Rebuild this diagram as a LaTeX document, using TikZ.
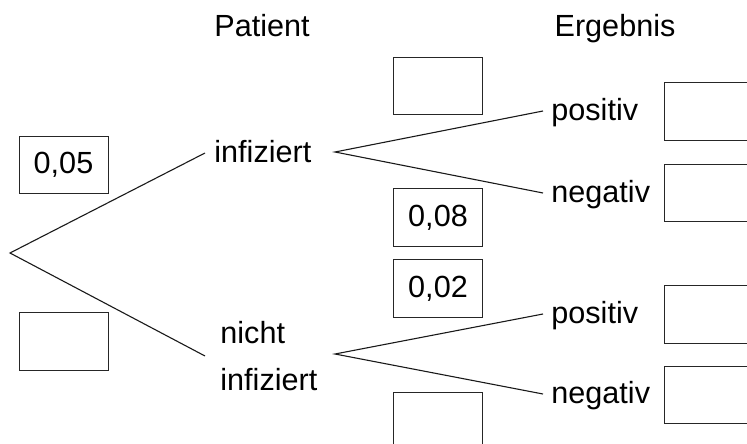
\documentclass[tikz,border=0pt]{standalone}
\usepackage{fontspec}
\setmainfont{Liberation Sans}
\tikzset{
	every node/.style = { font=\fontsize{15.3pt}{23.5pt}\selectfont },
	lbl/.style = { anchor=west, inner xsep=4pt, inner ysep=0pt },
	one/.style = { lbl, text height=12.4pt, text depth=3pt },
	head/.style = { anchor=base },
	prob/.style = { draw=black!85, line width=0.5pt, minimum width=44.5pt, minimum height=28.75pt, inner sep=0pt },
	branch/.style = { draw=black!90, line width=0.55pt },
}

\begin{document}
\begin{tikzpicture}[x=0.5pt,y=-0.5pt]
\useasboundingbox (0,0) rectangle (747,443);
\clip (0,0) rectangle (747,443);

\node (hpat) [head] at (262,37) {Patient};
\node (herg) [head] at (615,37) {Ergebnis};

\coordinate (root) at (10,253);
\node (inf) [one,inner xsep=4.5pt] at (205,153) {infiziert};
\node (nic) [lbl,align=left,inner xsep=7.5pt] at (205,356) {nicht\\infiziert};
\draw[branch] (inf.west) -- (root) -- (nic.west);

\coordinate (finf) at (335,152);
\coordinate (fnic) at (335,354);
\node (ipos) [one] at (543,111) {positiv};
\node (ineg) [one] at (543,193) {negativ};
\node (npos) [one] at (543,314) {positiv};
\node (nneg) [one] at (543,394) {negativ};
\draw[branch] (ipos.west) -- (finf) -- (ineg.west);
\draw[branch] (npos.west) -- (fnic) -- (nneg.west);

\node (pinf)  [prob] at (63.5,165)   {0,05};
\node (pnic)  [prob] at (63.5,341.5) {};
\node (pipos) [prob] at (438,86)     {};
\node (pineg) [prob] at (438,217.5)  {0,08};
\node (pnpos) [prob] at (438,288.5)  {0,02};
\node (pnneg) [prob] at (438,420.75) {};
\node (ripos) [prob] at (708.5,111.5) {};
\node (rineg) [prob] at (708.5,193)   {};
\node (rnpos) [prob] at (708.5,314.5) {};
\node (rnneg) [prob] at (708.5,395)   {};

\end{tikzpicture}
\end{document}
